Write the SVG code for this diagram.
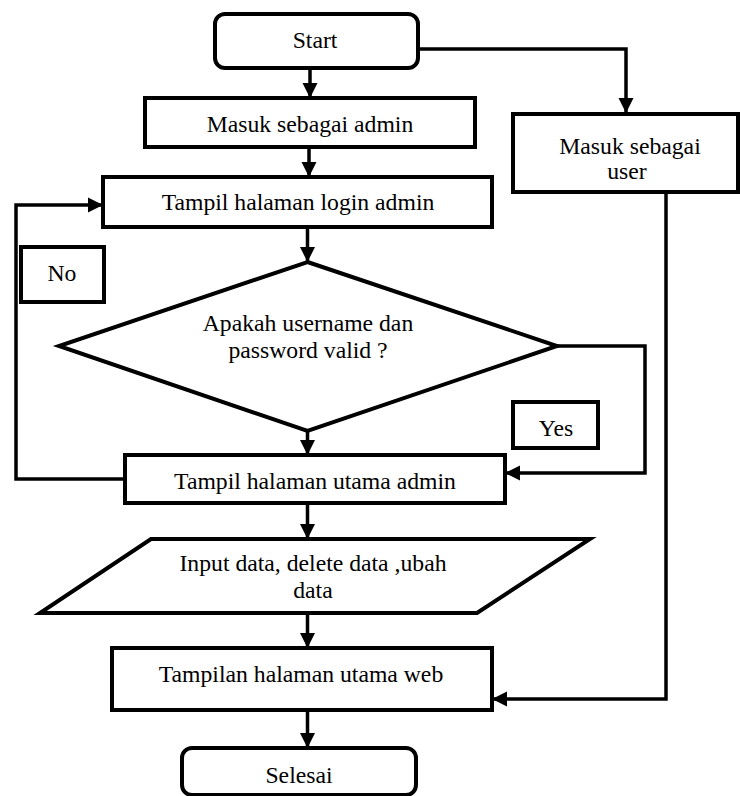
<svg xmlns="http://www.w3.org/2000/svg" width="740" height="796" viewBox="0 0 740 796">
<style>
.box{fill:#fff;stroke:#000;stroke-width:4}
.ln{fill:none;stroke:#000;stroke-width:3.5}
.t{font-family:'Liberation Serif','DejaVu Serif','Times New Roman',serif;font-size:23.7px;fill:#000;text-anchor:middle}
</style>
<defs>
<marker id="ah" markerUnits="userSpaceOnUse" markerWidth="16" markerHeight="16" refX="15" refY="8" orient="auto" viewBox="0 0 16 16">
<path d="M0,0.5 L15,8 L0,15.5 z" fill="#000"/>
</marker>
</defs>
<rect width="740" height="796" fill="#fff"/>
<g id="connectors">
<path class="ln" d="M310,68 V98" marker-end="url(#ah)"/>
<path class="ln" d="M418,49 H626 V113" marker-end="url(#ah)"/>
<path class="ln" d="M309,147 V177" marker-end="url(#ah)"/>
<path class="ln" d="M307.5,227 V262" marker-end="url(#ah)"/>
<path class="ln" d="M307.5,431 V455" marker-end="url(#ah)"/>
<path class="ln" d="M557,346 H645 V473 H505" marker-end="url(#ah)"/>
<path class="ln" d="M125,479 H16 V205 H103" marker-end="url(#ah)"/>
<path class="ln" d="M307.5,503 V539" marker-end="url(#ah)"/>
<path class="ln" d="M307.5,613 V648" marker-end="url(#ah)"/>
<path class="ln" d="M666,192 V699 H492" marker-end="url(#ah)"/>
<path class="ln" d="M307.5,710 V748" marker-end="url(#ah)"/>
</g>
<g id="start">
<rect class="box" x="215" y="14" width="203" height="54" rx="10"/>
<text class="t" x="315" y="48">Start</text>
</g>
<g id="masuk-admin">
<rect class="box" x="145" y="98" width="330" height="49"/>
<text class="t" x="310" y="132">Masuk sebagai admin</text>
</g>
<g id="masuk-user">
<rect class="box" x="513" y="114" width="225" height="78"/>
<text class="t" x="630" y="154">Masuk sebagai</text>
<text class="t" x="627" y="179">user</text>
</g>
<g id="login-admin">
<rect class="box" x="103" y="177" width="389" height="50"/>
<text class="t" x="298" y="210">Tampil halaman login admin</text>
</g>
<g id="label-no">
<rect class="box" x="21" y="247" width="83" height="55"/>
<text class="t" x="62" y="281">No</text>
</g>
<g id="decision">
<polygon class="box" points="307.5,262 557,346 307.5,431 59,346"/>
<text class="t" x="308" y="331">Apakah username dan</text>
<text class="t" x="308" y="358">password valid ?</text>
</g>
<g id="label-yes">
<rect class="box" x="513" y="402" width="85" height="46"/>
<text class="t" x="556" y="436">Yes</text>
</g>
<g id="utama-admin">
<rect class="box" x="125" y="455" width="380" height="48"/>
<text class="t" x="315" y="489">Tampil halaman utama admin</text>
</g>
<g id="input-data">
<polygon class="box" points="151,539 590,539 477,613 40,613"/>
<text class="t" x="313" y="571">Input data, delete data ,ubah</text>
<text class="t" x="313" y="598">data</text>
</g>
<g id="utama-web">
<rect class="box" x="112" y="648" width="380" height="62"/>
<text class="t" x="301" y="682">Tampilan halaman utama web</text>
</g>
<g id="selesai">
<rect class="box" x="182" y="748" width="234" height="47" rx="10"/>
<text class="t" x="299" y="783">Selesai</text>
</g>
</svg>
